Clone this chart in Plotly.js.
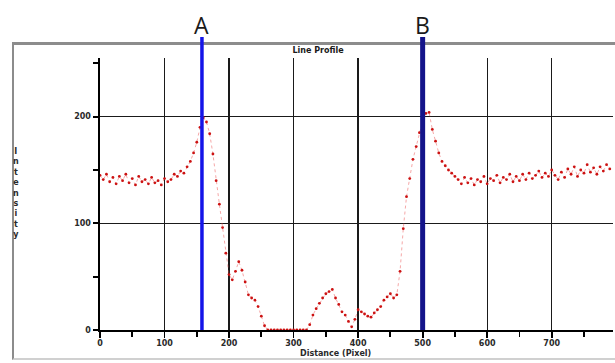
<!DOCTYPE html>
<html><head><meta charset="utf-8">
<script src="https://cdn.plot.ly/plotly-3.0.1.min.js"></script>
<style>
html,body{margin:0;padding:0;background:#fff;overflow:hidden;width:615px;height:363px;}
#frame{position:absolute;left:12px;top:42px;width:640px;height:318px;border-top:3px solid #8c8c8c;border-left:2px solid #8c8c8c;border-bottom:2px solid #d0d0d0;box-sizing:border-box;}
#chart{position:absolute;left:0;top:0;width:615px;height:363px;}
</style></head><body>
<div id="frame"></div>
<div id="chart"></div>
<script>
// ---- data ----
const distance = [0,5,10,15,20,25,30,35,40,45,50,55,60,65,70,75,80,85,90,95,
100,105,110,115,120,125,130,135,140,145,150,155,160,165,170,175,180,185,190,195,
200,205,210,215,220,225,230,235,240,245,250,255,260,265,270,275,280,285,290,295,
300,305,310,315,320,325,330,335,340,345,350,355,360,365,370,375,380,385,390,395,
400,405,410,415,420,425,430,435,440,445,450,455,460,465,470,475,480,485,490,495,
500,505,510,515,520,525,530,535,540,545,550,555,560,565,570,575,580,585,590,595,
600,605,610,615,620,625,630,635,640,645,650,655,660,665,670,675,680,685,690,695,
700,705,710,715,720,725,730,735,740,745,750,755,760,765,770,775,780,785,790];
const intensity = [145,141,146,139,143,137,144,140,146,138,142,136,144,139,141,137,143,138,140,136,
142,139,141,146,144,149,147,153,158,166,176,190,199,195,184,165,140,118,96,72,
52,47,55,64,56,45,33,30,28,22,13,4,0,0,0,0,0,0,0,0,
0,0,0,0,0,5,14,20,25,30,34,36,38,30,24,17,14,8,3,10,
19,17,15,13,12,16,19,22,28,31,34,30,33,55,95,125,142,160,172,185,
196,203,204,188,177,166,158,154,150,147,144,141,137,143,138,142,136,141,139,144,
137,142,140,145,138,143,141,146,139,144,140,146,141,147,142,145,149,143,147,144,
150,145,141,148,143,151,146,153,144,150,147,155,148,152,146,153,149,155,151];
const markerNames = ['A','B'];
const markerPositions = [158, 500];
const xTickLabels = ['0','100','200','300','400','500','600','700'];
const yTickLabels = ['0','100','200'];

// ---- geometry helpers (pixels -> paper) ----
const L = 100, R = 2, T = 58, B = 33, W = 615 - L - R, H = 363 - T - B;
const px = p => (p - L) / W;
const py = p => (363 - B - p) / H;

const tickFont = {family:'DejaVu Sans, Arial, sans-serif', size:8, color:'#2a2a2a', weight:'bold'};

const trace = {
  x: distance, y: intensity, type:'scatter', mode:'lines+markers',
  line:{color:'rgba(235,80,80,0.5)', width:1, dash:'dot'},
  marker:{color:'#cc1212', size:2.8},
  hoverinfo:'skip', showlegend:false
};

const axisCommon = {
  showline:true, linecolor:'#000', zeroline:false,
  showgrid:true, gridcolor:'#1a1a1a', gridwidth:1.3,
  ticks:'outside', tickcolor:'#000', tickwidth:1.8,
  tickfont: tickFont, fixedrange:true
};

const shapes = markerPositions.map((x, i) => ({
  type:'line', xref:'x', yref:'paper', x0:x, x1:x, y0:0, y1:py(37),
  line:{color: i === 0 ? '#1414e8' : '#14148a', width: i === 0 ? 3.5 : 5},
  layer:'above'
}));

const annotations = markerNames.map((n, i) => ({
  text:n, xref:'x', yref:'paper', x:markerPositions[i], y:py(25),
  xanchor:'center', yanchor:'middle', showarrow:false,
  font:{family:'Open Sans, DejaVu Sans, sans-serif', size:23, color:'#1a1a1a'}
}));
annotations.push({
  text:'I<br>n<br>t<br>e<br>n<br>s<br>i<br>t<br>y', xref:'paper', yref:'paper',
  x:px(16), y:py(193), xanchor:'center', yanchor:'middle', showarrow:false,
  font:{family:'DejaVu Sans, Arial, sans-serif', size:8, color:'#2a2a2a', weight:'bold'}
});
annotations.push({
  text:'Distance (Pixel)', xref:'paper', yref:'paper',
  x:px(335), y:py(353), xanchor:'center', yanchor:'middle', showarrow:false,
  font:{family:'DejaVu Sans, Arial, sans-serif', size:8, color:'#2a2a2a', weight:'bold'}
});

const layout = {
  width:615, height:363,
  margin:{l:L, r:R, t:T, b:B, pad:0},
  paper_bgcolor:'rgba(0,0,0,0)', plot_bgcolor:'rgba(0,0,0,0)',
  title:{text:'Line Profile', xref:'container', yref:'container', x:318/615, y:1 - 50/363,
         xanchor:'center', yanchor:'middle',
         font:{family:'DejaVu Sans, Arial, sans-serif', size:8, color:'#1a1a1a', weight:'bold'}},
  xaxis:Object.assign({}, axisCommon, {
    range:[0, 795], tickmode:'array', tickvals:xTickLabels.map(Number), ticktext:xTickLabels,
    ticklen:6, linewidth:2, ticklabelstandoff:-2,
    minor:{dtick:50, tick0:0, ticks:'outside', ticklen:5, tickwidth:1.8, tickcolor:'#000', showgrid:false}
  }),
  yaxis:Object.assign({}, axisCommon, {
    range:[0, 255], tickmode:'array', tickvals:yTickLabels.map(Number), ticktext:yTickLabels,
    ticklen:5, linewidth:2.5,
    minor:{dtick:50, tick0:0, ticks:'outside', ticklen:5, tickwidth:1.8, tickcolor:'#000', showgrid:false}
  }),
  shapes:shapes, annotations:annotations
};

Plotly.newPlot('chart', [trace], layout, {staticPlot:true, displayModeBar:false});
</script></body></html>
